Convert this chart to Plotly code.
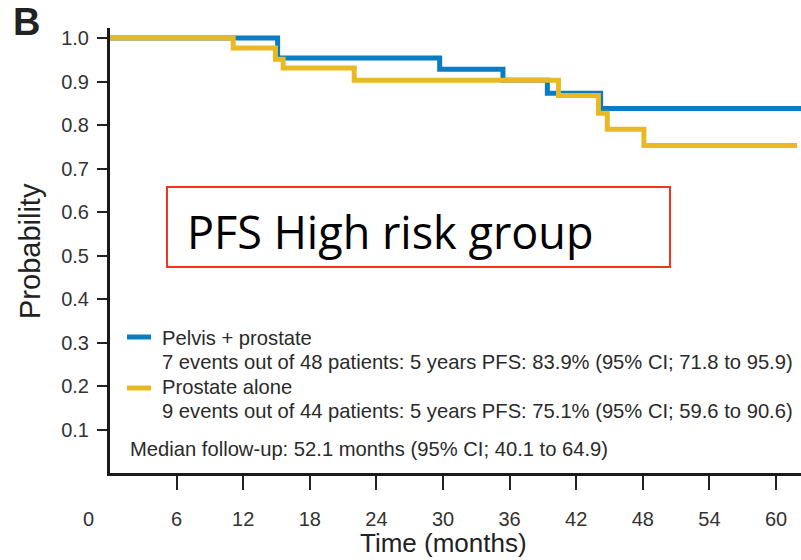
import plotly.graph_objects as go

# ---- data ----
pelvis_t = [0, 15.1, 29.7, 35.4, 39.4, 44.2, 62.3]
pelvis_s = [1.0, 0.954, 0.928, 0.903, 0.873, 0.838, 0.838]
prostate_t = [0, 11.1, 14.9, 15.6, 22.0, 40.4, 44.0, 44.8, 48.1, 61.9]
prostate_s = [1.0, 0.977, 0.951, 0.931, 0.903, 0.868, 0.827, 0.790, 0.753, 0.753]

x_ticks = [6, 12, 18, 24, 30, 36, 42, 48, 54, 60]
y_ticks = [0.1, 0.2, 0.3, 0.4, 0.5, 0.6, 0.7, 0.8, 0.9, 1.0]
y_ticktext = ["0.1", "0.2", "0.3", "0.4", "0.5", "0.6", "0.7", "0.8", "0.9", "1.0"]

legend_lines = [
    "Pelvis + prostate",
    "7 events out of 48 patients: 5 years PFS: 83.9% (95% CI; 71.8 to 95.9)",
    "Prostate alone",
    "9 events out of 44 patients: 5 years PFS: 75.1% (95% CI; 59.6 to 90.6)",
    "Median follow-up: 52.1 months (95% CI; 40.1 to 64.9)",
]

BLUE = "#0a7cc4"
GOLD = "#e9b923"

W, H = 801, 560
L, R, T, B = 110, 0, 28, 87
PW, PH = W - L - R, H - T - B


def px(xp):
    return (xp - L) / PW


def py(yp):
    return (H - B - yp) / PH


fig = go.Figure()
fig.add_trace(go.Scatter(x=pelvis_t, y=pelvis_s, mode="lines", line=dict(color=BLUE, width=5, shape="hv"),
                         showlegend=False, hoverinfo="skip"))
fig.add_trace(go.Scatter(x=prostate_t, y=prostate_s, mode="lines", line=dict(color=GOLD, width=5, shape="hv"),
                         showlegend=False, hoverinfo="skip"))

sans = "Liberation Sans"

fig.update_layout(
    width=W, height=H,
    margin=dict(l=L, r=R, t=T, b=B),
    paper_bgcolor="white", plot_bgcolor="white",
    xaxis=dict(range=[0, 62.25], tickvals=x_ticks, ticks="outside", ticklen=14, tickwidth=1.5,
               tickcolor="#222", showline=True, linewidth=3, linecolor="#1a1a1a", showgrid=False,
               zeroline=False, tickfont=dict(family=sans, size=20, color="#333"),
               ticklabelstandoff=12),
    yaxis=dict(range=[0, 1.023], tickvals=y_ticks, ticktext=y_ticktext, ticks="outside", ticklen=10,
               tickwidth=1.5, tickcolor="#222", showline=True, linewidth=3, linecolor="#1a1a1a",
               showgrid=False, zeroline=False, tickfont=dict(family=sans, size=20, color="#333"),
               ticklabelstandoff=4),
)

ann = []
ann.append(dict(x=px(26), y=py(22), xref="paper", yref="paper", text="<b>B</b>", showarrow=False,
                font=dict(family=sans, size=38, color="#222"), xanchor="center", yanchor="middle"))
ann.append(dict(x=px(88), y=py(519), xref="paper", yref="paper", text="0", showarrow=False,
                font=dict(family=sans, size=20, color="#333"), xanchor="center", yanchor="middle"))
ann.append(dict(x=px(443), y=py(543), xref="paper", yref="paper", text="Time (months)", showarrow=False,
                font=dict(family=sans, size=26, color="#222"), xanchor="center", yanchor="middle"))
ann.append(dict(x=px(30), y=py(251), xref="paper", yref="paper", text="Probability", showarrow=False,
                textangle=-90, font=dict(family=sans, size=29, color="#222"),
                xanchor="center", yanchor="middle"))
ann.append(dict(x=px(185), y=py(231), xref="paper", yref="paper", text="PFS High risk group",
                showarrow=False, font=dict(family="Open Sans", size=45, color="black"),
                xanchor="left", yanchor="middle"))

ys = [338, 362, 387, 411, 449]
xs = [160, 160, 160, 160, 128]
for t, yy, xx in zip(legend_lines, ys, xs):
    ann.append(dict(x=px(xx), y=py(yy), xref="paper", yref="paper", text=t, showarrow=False,
                    font=dict(family=sans, size=20.2, color="#2a2a2a"), xanchor="left", yanchor="middle"))
fig.update_layout(annotations=ann)

shapes = [
    dict(type="rect", xref="paper", yref="paper", x0=px(167), x1=px(670), y0=py(267), y1=py(187),
         line=dict(color="#f0361f", width=2), fillcolor="rgba(0,0,0,0)"),
    dict(type="line", xref="paper", yref="paper", x0=px(127), x1=px(151), y0=py(337), y1=py(337),
         line=dict(color=BLUE, width=5)),
    dict(type="line", xref="paper", yref="paper", x0=px(127), x1=px(151), y0=py(388), y1=py(388),
         line=dict(color=GOLD, width=5)),
]
fig.update_layout(shapes=shapes)

fig.write_html("out.html")
